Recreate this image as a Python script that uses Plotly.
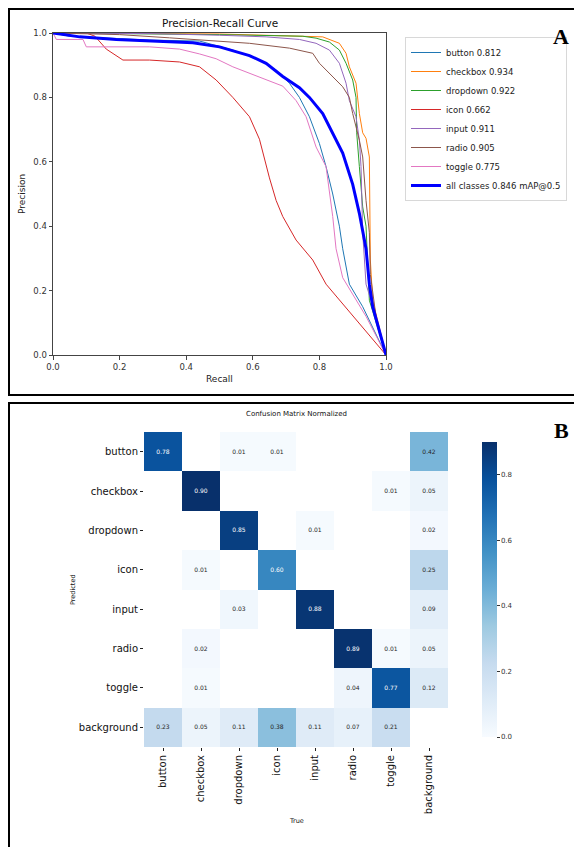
import plotly.graph_objects as go

# Reference page is 582x855; the html body adds an 8px margin,
# so the figure itself is 566x839 and sits at (8, 8) on the page.
PAGE_W, PAGE_H = 582, 855
OFF = 8
W, H = PAGE_W - 2 * OFF, PAGE_H - 2 * OFF

# ---------------- Panel A data: Precision-Recall curves ----------------
class_names = ["button", "checkbox", "dropdown", "icon", "input", "radio", "toggle"]
class_ap = [0.812, 0.934, 0.922, 0.662, 0.911, 0.905, 0.775]
class_colors = ["#1f77b4", "#ff7f0e", "#2ca02c", "#d62728", "#9467bd", "#8c564b", "#e377c2"]

button_r = [0, 0.05, 0.29, 0.44, 0.54, 0.62, 0.67, 0.71, 0.74, 0.77, 0.80, 0.82, 0.84, 0.86, 0.87, 0.89, 0.93, 1.0]
button_p = [1.0, 0.99, 0.978, 0.975, 0.947, 0.916, 0.885, 0.844, 0.80, 0.74, 0.657, 0.585, 0.50, 0.40, 0.33, 0.22, 0.15, 0.0]

checkbox_r = [0, 0.5, 0.81, 0.86, 0.88, 0.89, 0.91, 0.92, 0.93, 0.94, 0.95, 0.951, 0.953, 0.96, 1.0]
checkbox_p = [1.0, 0.997, 0.988, 0.968, 0.937, 0.895, 0.844, 0.75, 0.69, 0.673, 0.615, 0.48, 0.295, 0.17, 0.0]

dropdown_r = [0, 0.5, 0.75, 0.79, 0.83, 0.86, 0.88, 0.90, 0.91, 0.912, 0.92, 0.93, 0.94, 0.95, 1.0]
dropdown_p = [1.0, 0.995, 0.99, 0.984, 0.972, 0.947, 0.906, 0.854, 0.80, 0.69, 0.585, 0.46, 0.40, 0.17, 0.0]

icon_r = [0, 0.10, 0.126, 0.16, 0.21, 0.29, 0.38, 0.44, 0.49, 0.54, 0.59, 0.62, 0.65, 0.67, 0.69, 0.73, 0.78, 0.82, 1.0]
icon_p = [1.0, 1.0, 0.99, 0.95, 0.916, 0.916, 0.91, 0.895, 0.854, 0.80, 0.74, 0.67, 0.55, 0.48, 0.43, 0.357, 0.295, 0.22, 0.0]

input_r = [0, 0.3, 0.5, 0.64, 0.74, 0.79, 0.83, 0.86, 0.88, 0.89, 0.91, 0.92, 0.925, 0.93, 0.94, 0.97, 1.0]
input_p = [1.0, 0.998, 0.993, 0.988, 0.98, 0.968, 0.947, 0.906, 0.844, 0.79, 0.74, 0.667, 0.585, 0.38, 0.22, 0.12, 0.0]

radio_r = [0, 0.2, 0.35, 0.54, 0.59, 0.71, 0.78, 0.80, 0.83, 0.87, 0.89, 0.90, 0.92, 0.93, 0.94, 0.95, 0.953, 0.97, 1.0]
radio_p = [1.0, 0.995, 0.985, 0.972, 0.968, 0.953, 0.937, 0.906, 0.875, 0.833, 0.80, 0.75, 0.667, 0.615, 0.48, 0.38, 0.25, 0.12, 0.0]

toggle_r = [0, 0.01, 0.09, 0.10, 0.29, 0.38, 0.44, 0.49, 0.54, 0.59, 0.64, 0.69, 0.73, 0.76, 0.79, 0.82, 0.84, 0.85, 0.87, 0.94, 1.0]
toggle_p = [1.0, 0.98, 0.98, 0.957, 0.957, 0.95, 0.935, 0.92, 0.895, 0.875, 0.854, 0.835, 0.79, 0.74, 0.646, 0.585, 0.43, 0.33, 0.24, 0.12, 0.0]

all_r = [0, 0.08, 0.19, 0.29, 0.42, 0.50, 0.59, 0.64, 0.69, 0.74, 0.77, 0.81, 0.84, 0.87, 0.90, 0.92, 0.94, 0.95, 0.96, 0.98, 1.0]
all_p = [1.0, 0.988, 0.98, 0.976, 0.97, 0.957, 0.93, 0.906, 0.865, 0.83, 0.80, 0.75, 0.69, 0.627, 0.53, 0.44, 0.33, 0.22, 0.15, 0.078, 0.0]
all_map = 0.846

class_curves = [(button_r, button_p), (checkbox_r, checkbox_p), (dropdown_r, dropdown_p),
                (icon_r, icon_p), (input_r, input_p), (radio_r, radio_p), (toggle_r, toggle_p)]

# ---------------- Panel B data: Confusion matrix ----------------
cm_labels = ["button", "checkbox", "dropdown", "icon", "input", "radio", "toggle", "background"]
cm_values = [
    [0.78, None, 0.01, 0.01, None, None, None, 0.42],
    [None, 0.90, None, None, None, None, 0.01, 0.05],
    [None, None, 0.85, None, 0.01, None, None, 0.02],
    [None, 0.01, None, 0.60, None, None, None, 0.25],
    [None, None, 0.03, None, 0.88, None, None, 0.09],
    [None, 0.02, None, None, None, 0.89, 0.01, 0.05],
    [None, 0.01, None, None, None, 0.04, 0.77, 0.12],
    [0.23, 0.05, 0.11, 0.38, 0.11, 0.07, 0.21, None],
]
cbar_ticks = [0.0, 0.2, 0.4, 0.6, 0.8]

blues = ["#f7fbff", "#deebf7", "#c6dbef", "#9ecae1", "#6baed6", "#4292c6", "#2171b5", "#08519c", "#08306b"]
blues_scale = [[i / 8, c] for i, c in enumerate(blues)]
Z_MAX = 0.90
DARK_THRESHOLD = 0.5  # cells above this get white annotation text (as seaborn does)

FONT = "DejaVu Sans"


def px(x):
    return (x - OFF) / W


def py(y):
    return 1 - (y - OFF) / H


fig = go.Figure()

for name, ap, col, (r, p) in zip(class_names, class_ap, class_colors, class_curves):
    fig.add_trace(go.Scatter(x=r, y=p, mode="lines", name=f"{name} {ap:.3f}",
                             line=dict(color=col, width=1), xaxis="x", yaxis="y"))
fig.add_trace(go.Scatter(x=all_r, y=all_p, mode="lines", name=f"all classes {all_map:.3f} mAP@0.5",
                         line=dict(color="#0000ff", width=3), xaxis="x", yaxis="y"))

light_text = [["" if (v is None or v > DARK_THRESHOLD) else f"{v:.2f}" for v in row] for row in cm_values]
dark_vals = [[v if (v is not None and v > DARK_THRESHOLD) else None for v in row] for row in cm_values]
dark_text = [["" if v is None else f"{v:.2f}" for v in row] for row in dark_vals]

fig.add_trace(go.Heatmap(
    z=cm_values, x=cm_labels, y=cm_labels, text=light_text, texttemplate="%{text}",
    textfont=dict(size=6, family=FONT, color="#262626"),
    colorscale=blues_scale, zmin=0, zmax=Z_MAX, xaxis="x2", yaxis="y2", showscale=True,
    hoverongaps=False, showlegend=False,
    colorbar=dict(x=px(472), xanchor="left", y=py(589.5), yanchor="middle",
                  len=315 / H, lenmode="fraction", thickness=15, thicknessmode="pixels",
                  outlinewidth=0, tickvals=cbar_ticks, ticktext=[f"{t:.1f}" for t in cbar_ticks],
                  ticks="outside", ticklen=3, tickcolor="#333",
                  tickfont=dict(size=7, family=FONT, color="#333")),
))
fig.add_trace(go.Heatmap(
    z=dark_vals, x=cm_labels, y=cm_labels, text=dark_text, texttemplate="%{text}",
    textfont=dict(size=6, family=FONT, color="white"),
    colorscale=blues_scale, zmin=0, zmax=Z_MAX, xaxis="x2", yaxis="y2", showscale=False,
    hoverongaps=False, showlegend=False,
))

axis_common = dict(showgrid=False, zeroline=False, showline=True, mirror=True, automargin=False,
                   linecolor="#444", linewidth=1, ticks="outside", ticklen=3.5,
                   tickcolor="#444", tickfont=dict(size=8.5, family=FONT, color="#333"))


def ann(text, x, y, size, color="#111", family=FONT, angle=0):
    return dict(text=text, x=px(x), y=py(y), xref="paper", yref="paper", showarrow=False,
                xanchor="center", yanchor="middle", textangle=angle,
                font=dict(size=size, family=family, color=color))


fig.update_layout(
    width=W, height=H, margin=dict(l=0, r=0, t=0, b=0, autoexpand=False),
    paper_bgcolor="white", plot_bgcolor="white",
    font=dict(family=FONT),
    xaxis=dict(domain=[px(53), px(386)], range=[0, 1], anchor="y",
               tickvals=[0, 0.2, 0.4, 0.6, 0.8, 1.0], tickformat=".1f", **axis_common),
    yaxis=dict(domain=[py(355), py(33)], range=[0, 1], anchor="x",
               tickvals=[0, 0.2, 0.4, 0.6, 0.8, 1.0], tickformat=".1f", **axis_common),
    xaxis2=dict(domain=[px(144), px(448)], anchor="y2", showgrid=False, zeroline=False,
                automargin=False, ticks="outside", ticklen=3, tickcolor="#222", tickangle=-90,
                tickfont=dict(size=10, family=FONT, color="#111")),
    yaxis2=dict(domain=[py(747), py(432)], anchor="x2", autorange="reversed", automargin=False,
                showgrid=False, zeroline=False, ticks="outside", ticklen=3, tickcolor="#222",
                tickfont=dict(size=10, family=FONT, color="#111")),
    legend=dict(x=px(405), y=py(37), xanchor="left", yanchor="top",
                bordercolor="#d8d8d8", borderwidth=1, bgcolor="white",
                font=dict(size=8.5, family=FONT, color="#222"), tracegroupgap=0,
                itemwidth=30),
    annotations=[
        ann("Precision-Recall Curve", 219.5, 23, 10.5),
        ann("Recall", 219.5, 379, 9, "#222"),
        ann("Precision", 22, 194, 9, "#222", angle=-90),
        ann("<b>A</b>", 561, 37, 22, "black", "Liberation Serif"),
        ann("Confusion Matrix Normalized", 296, 414, 7),
        ann("Predicted", 73, 590, 6.5, angle=-90),
        ann("True", 296, 821, 6.5),
        ann("<b>B</b>", 561, 430, 22, "black", "Liberation Serif"),
    ],
    shapes=[
        dict(type="rect", xref="paper", yref="paper", x0=px(9), x1=1.02, y0=py(395), y1=py(9),
             line=dict(color="black", width=2)),
        dict(type="rect", xref="paper", yref="paper", x0=px(9), x1=1.02, y0=-0.02, y1=py(403),
             line=dict(color="black", width=2)),
    ],
)

fig.write_html("out.html")
